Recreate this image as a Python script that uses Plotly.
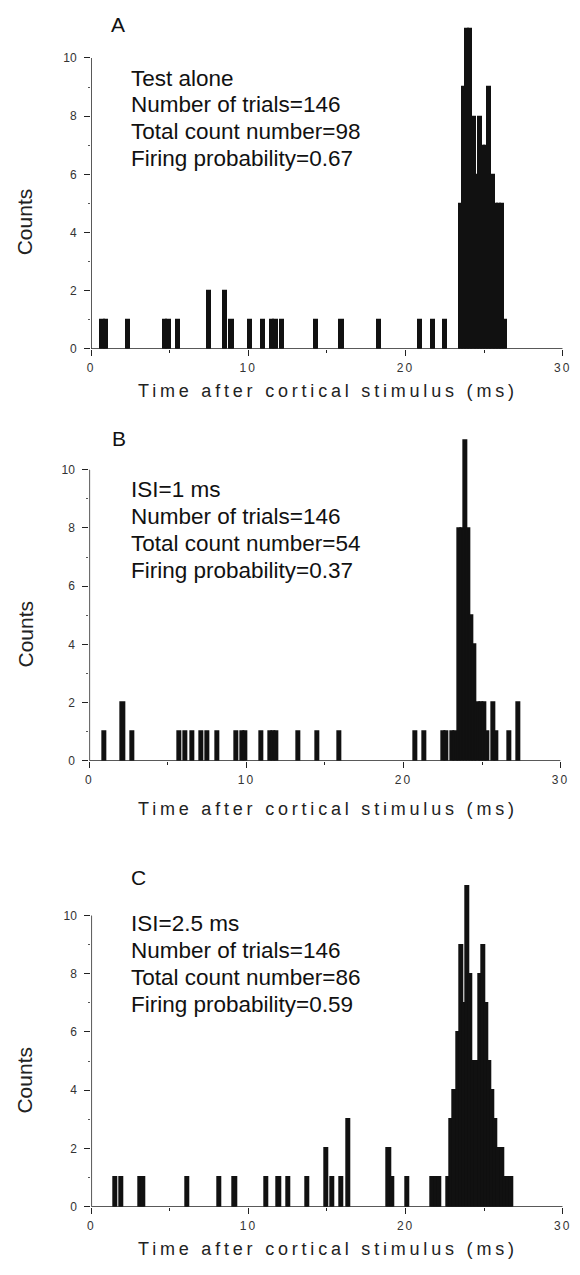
import plotly.graph_objects as go

W, H = 580, 1275
BIN_MS = 0.2  # histogram bin width (ms)

# ---- Panel A: test stimulus alone ----
a_bin_start = [0.6, 0.8, 2.2, 4.6, 4.8, 5.4, 7.4, 8.4, 8.8, 10.0,
               10.8, 11.4, 11.6, 12.0, 14.2, 15.8, 18.2, 20.8, 21.6, 22.4,
               23.4, 23.6, 23.8, 24.0, 24.2, 24.4, 24.6, 24.8, 25.0, 25.2,
               25.4, 25.6, 25.8, 26.0, 26.2]
a_counts = [1, 1, 1, 1, 1, 1, 2, 2, 1, 1,
            1, 1, 1, 1, 1, 1, 1, 1, 1, 1,
            5, 9, 11, 11, 8, 6, 8, 7, 7, 9,
            6, 5, 5, 5, 1]
a_text = ["Test alone", "Number of trials=146",
          "Total count number=98", "Firing probability=0.67"]

# ---- Panel B: ISI = 1 ms ----
b_bin_start = [0.8, 2.0, 2.6, 5.6, 6.0, 6.4, 7.0, 7.4, 8.0, 9.2,
               9.6, 9.8, 10.8, 11.4, 11.6, 11.8, 13.2, 14.4, 15.8, 20.6,
               21.2, 22.4, 22.6, 23.0, 23.2, 23.4, 23.6, 23.8, 24.0, 24.2,
               24.4, 24.6, 24.8, 25.0, 25.2, 25.6, 25.8, 26.6, 27.2]
b_counts = [1, 2, 1, 1, 1, 1, 1, 1, 1, 1,
            1, 1, 1, 1, 1, 1, 1, 1, 1, 1,
            1, 1, 1, 1, 1, 8, 8, 11, 8, 5,
            4, 2, 2, 2, 1, 2, 1, 1, 2]
b_text = ["ISI=1 ms", "Number of trials=146",
          "Total count number=54", "Firing probability=0.37"]

# ---- Panel C: ISI = 2.5 ms ----
c_bin_start = [1.4, 1.8, 3.0, 3.2, 6.0, 8.0, 9.0, 11.0, 11.8, 12.4,
               13.6, 14.8, 15.2, 15.8, 16.2, 18.8, 19.0, 20.0, 21.6, 21.8,
               22.0, 22.6, 22.8, 23.0, 23.2, 23.4, 23.6, 23.8, 24.0, 24.2,
               24.4, 24.6, 24.8, 25.0, 25.2, 25.4, 25.6, 25.8, 26.0, 26.2,
               26.4, 26.6]
c_counts = [1, 1, 1, 1, 1, 1, 1, 1, 1, 1,
            1, 2, 1, 1, 3, 2, 1, 1, 1, 1,
            1, 1, 3, 4, 6, 9, 7, 11, 8, 5,
            5, 8, 9, 7, 5, 4, 3, 2, 2, 1,
            1, 1]
c_text = ["ISI=2.5 ms", "Number of trials=146",
          "Total count number=86", "Firing probability=0.59"]

x_ticks = [0, 10, 20, 30]
x_minor = [5, 15, 25]
y_ticks = [0, 2, 4, 6, 8, 10]
y_minor = [1, 3, 5, 7, 9]
X_MAX = 30
Y_TOP = 11.8

# pixel geometry of each panel: x of 0 / 30 ms, y of 0 / 10 counts,
# panel letter position, first text line centre and title centres
panels = [
    dict(letter="A", bins=a_bin_start, counts=a_counts, text=a_text,
         x0=89.0, x30=571.5, y0=350.7, y10=58.3,
         letter_xy=(117, 25), text_y=78.5, counts_y=223, title_y=393),
    dict(letter="B", bins=b_bin_start, counts=b_counts, text=b_text,
         x0=87.3, x30=569.3, y0=765.0, y10=472.3,
         letter_xy=(118, 441), text_y=492.5, counts_y=637.5, title_y=813),
    dict(letter="C", bins=c_bin_start, counts=c_counts, text=c_text,
         x0=89.3, x30=571.5, y0=1213.3, y10=920.5,
         letter_xy=(138, 882), text_y=929, counts_y=1086, title_y=1256),
]

FONT = "Liberation Sans, Arial, Helvetica, sans-serif"
INK = "#111111"
AXIS = "#222222"
TICKFONT = dict(family=FONT, size=12, color="#333333")


def px_x(p):
    return p / W


def px_y(p):
    return 1 - p / H


def spaced(s, sp):
    return f'<span style="letter-spacing:{sp}px">{s}</span>'


fig = go.Figure()
layout = dict(
    width=W, height=H,
    margin=dict(l=0, r=0, t=0, b=0),
    paper_bgcolor="white", plot_bgcolor="white",
    showlegend=False, bargap=0,
    font=dict(family=FONT, color=INK),
)
annotations = []
shapes = []

for i, p in enumerate(panels, start=1):
    xs = "" if i == 1 else str(i)
    xa, ya = "x" + xs, "y" + xs
    per_count = (p["y0"] - p["y10"]) / 10.0
    y_top_px = p["y0"] - Y_TOP * per_count

    fig.add_trace(go.Bar(
        x=p["bins"], y=p["counts"], width=BIN_MS, offset=0,
        marker=dict(color=INK, line=dict(color=INK, width=2)),
        xaxis=xa, yaxis=ya, hoverinfo="x+y",
    ))

    layout["xaxis" + xs] = dict(
        domain=[px_x(p["x0"]), px_x(p["x30"])], anchor=ya,
        range=[0, X_MAX], showgrid=False, zeroline=False, showline=False,
        tickmode="array", tickvals=x_ticks,
        ticktext=[spaced(str(v), 2) for v in x_ticks],
        ticks="outside", ticklen=6, tickwidth=1.2, tickcolor=AXIS,
        tickfont=TICKFONT, ticklabelstandoff=2,
        minor=dict(tickmode="array", tickvals=x_minor, ticks="outside",
                   ticklen=3, tickwidth=1, tickcolor=AXIS),
    )
    layout["yaxis" + xs] = dict(
        domain=[px_y(p["y0"]), px_y(y_top_px)], anchor=xa,
        range=[0, Y_TOP], showgrid=False, zeroline=False, showline=False,
        tickmode="array", tickvals=y_ticks,
        ticks="outside", ticklen=6, tickwidth=1.2, tickcolor=AXIS,
        tickfont=TICKFONT, ticklabelstandoff=5,
        minor=dict(tickmode="array", tickvals=y_minor, ticks="outside",
                   ticklen=2, tickwidth=1, tickcolor="#555555"),
    )

    # axis lines: x from 0 to 30 ms, y from 0 to 10 counts
    shapes.append(dict(type="line", xref=xa, yref=ya, x0=0, x1=X_MAX, y0=0, y1=0,
                       line=dict(color=AXIS, width=1.5)))
    shapes.append(dict(type="line", xref=xa, yref=ya, x0=0, x1=0, y0=0, y1=10,
                       line=dict(color=AXIS, width=1.5)))

    # panel letter
    lx, ly = p["letter_xy"]
    annotations.append(dict(text=p["letter"], xref="paper", yref="paper",
                            x=px_x(lx), y=px_y(ly), xanchor="center",
                            yanchor="middle", showarrow=False,
                            font=dict(family=FONT, size=21, color=INK)))
    # stimulus description
    for k, line in enumerate(p["text"]):
        annotations.append(dict(text=line, xref="paper", yref="paper",
                                x=px_x(128), y=px_y(p["text_y"] + 27 * k),
                                xanchor="left", yanchor="middle",
                                showarrow=False,
                                font=dict(family=FONT, size=22.5, color=INK)))
    # axis titles
    annotations.append(dict(text="Counts", xref="paper", yref="paper",
                            x=px_x(21), y=px_y(p["counts_y"]), textangle=-90,
                            xanchor="center", yanchor="middle", showarrow=False,
                            font=dict(family=FONT, size=21, color="#222222")))
    annotations.append(dict(text=spaced("Time after cortical stimulus (ms)", 3.8),
                            xref="paper", yref="paper",
                            x=px_x(331), y=px_y(p["title_y"]),
                            xanchor="center", yanchor="middle", showarrow=False,
                            font=dict(family=FONT, size=18, color="#222222")))

layout["annotations"] = annotations
layout["shapes"] = shapes
fig.update_layout(**layout)
fig.write_html("out.html")
